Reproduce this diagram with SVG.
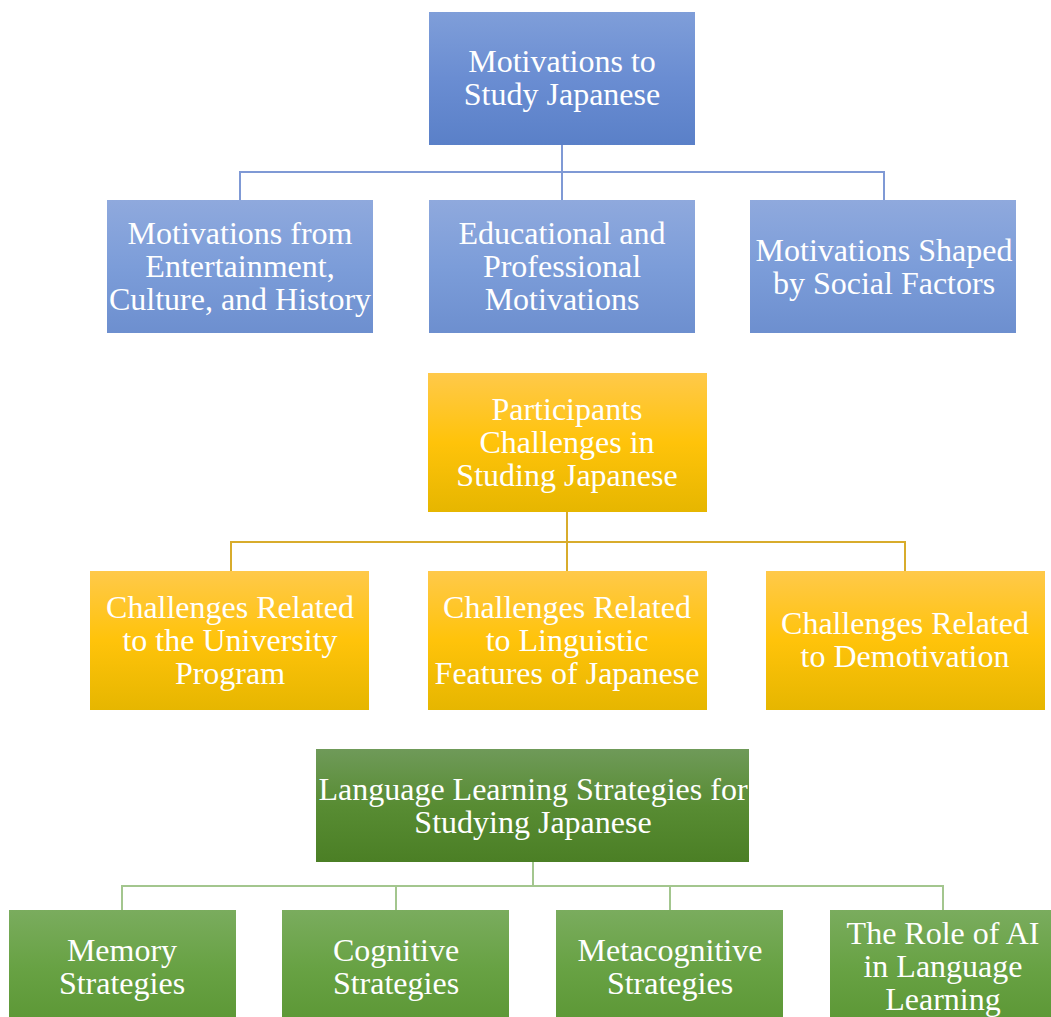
<svg xmlns="http://www.w3.org/2000/svg" width="1051" height="1017" viewBox="0 0 1051 1017">
<defs>
<linearGradient id="gBlue1" x1="0" y1="0" x2="0" y2="1"><stop offset="0" stop-color="#7f9ed9"/><stop offset="0.5" stop-color="#6a8dd2"/><stop offset="1" stop-color="#5a80c8"/></linearGradient>
<linearGradient id="gBlue2" x1="0" y1="0" x2="0" y2="1"><stop offset="0" stop-color="#8fa9dd"/><stop offset="0.5" stop-color="#7c9dd9"/><stop offset="1" stop-color="#6d8fcf"/></linearGradient>
<linearGradient id="gYel" x1="0" y1="0" x2="0" y2="1"><stop offset="0" stop-color="#ffc94a"/><stop offset="0.5" stop-color="#ffc30a"/><stop offset="1" stop-color="#e6b600"/></linearGradient>
<linearGradient id="gGrn1" x1="0" y1="0" x2="0" y2="1"><stop offset="0" stop-color="#6f9a59"/><stop offset="0.5" stop-color="#588c33"/><stop offset="1" stop-color="#4b7f25"/></linearGradient>
<linearGradient id="gGrn2" x1="0" y1="0" x2="0" y2="1"><stop offset="0" stop-color="#7aac5e"/><stop offset="0.5" stop-color="#68a244"/><stop offset="1" stop-color="#5c9735"/></linearGradient>
</defs>
<style>
text{font-family:"Liberation Serif","Times New Roman",serif;font-size:32px;fill:#ffffff;text-anchor:middle}
.cb{stroke:#7f99d5;stroke-width:2;fill:none}
.cy{stroke:#d8ac2c;stroke-width:2;fill:none}
.cg{stroke:#a3c68e;stroke-width:2;fill:none}
</style>
<rect width="1051" height="1017" fill="#ffffff"/>
<g id="connectors">
<path class="cb" d="M562 145V200M240 200V172H884V200"/>
<path class="cy" d="M567 512V571M231 571V542H905V571"/>
<path class="cg" d="M533 862V886M122 910V886H943V910M396 886V910M670 886V910"/>
</g>
<g id="n-motivations">
<rect x="429" y="12" width="266" height="133" fill="url(#gBlue1)"/>
<text x="562" y="72">Motivations to</text><text x="562" y="105">Study Japanese</text>
</g>
<g id="n-entertainment">
<rect x="107" y="200" width="266" height="133" fill="url(#gBlue2)"/>
<text x="240" y="244">Motivations from</text><text x="240" y="277">Entertainment,</text><text x="240" y="310">Culture, and History</text>
</g>
<g id="n-educational">
<rect x="429" y="200" width="266" height="133" fill="url(#gBlue2)"/>
<text x="562" y="244">Educational and</text><text x="562" y="277">Professional</text><text x="562" y="310">Motivations</text>
</g>
<g id="n-social">
<rect x="750" y="200" width="266" height="133" fill="url(#gBlue2)"/>
<text x="884" y="261">Motivations Shaped</text><text x="884" y="294">by Social Factors</text>
</g>
<g id="n-challenges">
<rect x="428" y="373" width="279" height="139" fill="url(#gYel)"/>
<text x="567" y="420">Participants</text><text x="567" y="453">Challenges in</text><text x="567" y="486">Studing Japanese</text>
</g>
<g id="n-university">
<rect x="90" y="571" width="279" height="139" fill="url(#gYel)"/>
<text x="230" y="618">Challenges Related</text><text x="230" y="651">to the University</text><text x="230" y="684">Program</text>
</g>
<g id="n-linguistic">
<rect x="428" y="571" width="279" height="139" fill="url(#gYel)"/>
<text x="567" y="618">Challenges Related</text><text x="567" y="651">to Linguistic</text><text x="567" y="684">Features of Japanese</text>
</g>
<g id="n-demotivation">
<rect x="766" y="571" width="279" height="139" fill="url(#gYel)"/>
<text x="905" y="634">Challenges Related</text><text x="905" y="667">to Demotivation</text>
</g>
<g id="n-strategies">
<rect x="316" y="749" width="433" height="113" fill="url(#gGrn1)"/>
<text x="533" y="800">Language Learning Strategies for</text><text x="533" y="833">Studying Japanese</text>
</g>
<g id="n-memory">
<rect x="9" y="910" width="227" height="114" fill="url(#gGrn2)"/>
<text x="122" y="961">Memory</text><text x="122" y="994">Strategies</text>
</g>
<g id="n-cognitive">
<rect x="282" y="910" width="227" height="114" fill="url(#gGrn2)"/>
<text x="396" y="961">Cognitive</text><text x="396" y="994">Strategies</text>
</g>
<g id="n-metacognitive">
<rect x="556" y="910" width="227" height="114" fill="url(#gGrn2)"/>
<text x="670" y="961">Metacognitive</text><text x="670" y="994">Strategies</text>
</g>
<g id="n-ai">
<rect x="830" y="910" width="227" height="114" fill="url(#gGrn2)"/>
<text x="943" y="944">The Role of AI</text><text x="943" y="977">in Language</text><text x="943" y="1010">Learning</text>
</g>
</svg>
